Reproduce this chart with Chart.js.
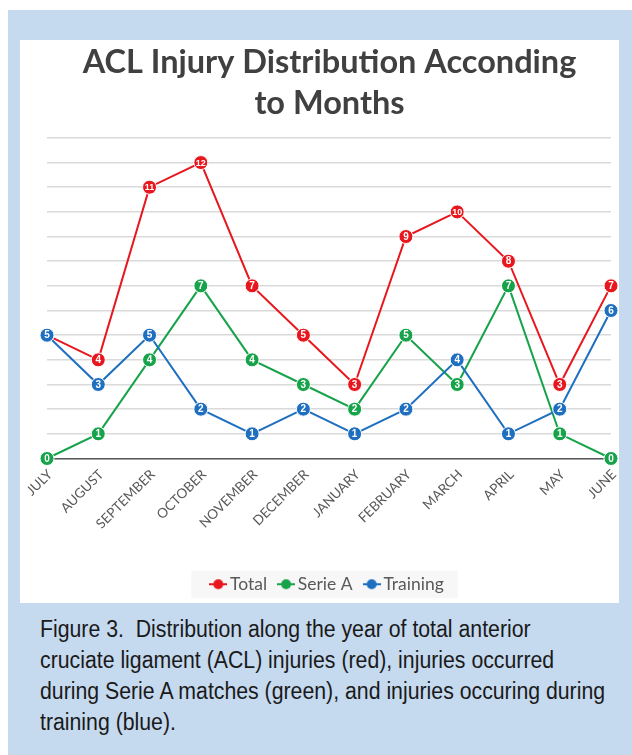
<!DOCTYPE html>
<html>
<head>
<meta charset="utf-8">
<script src="https://cdn.jsdelivr.net/npm/chart.js@4"></script>
<style>
  html, body { margin: 0; padding: 0; background: #ffffff; }
  body { width: 632px; height: 755px; position: relative; overflow: hidden; }
  #panel { position: absolute; left: 8px; top: 10px; width: 624px; height: 745px; background: #c5d9ef; }
  #box { position: absolute; left: 20px; top: 40px; width: 599px; height: 563px; background: #ffffff; }
  #caption {
    position: absolute; left: 40px; top: 614px;
    font-family: "Liberation Sans", Arial, sans-serif;
    font-size: 23.5px; line-height: 31px; color: #1a1a1a;
  }
  #caption div { white-space: nowrap; transform: scaleX(0.905); transform-origin: 0 0; }
</style>
</head>
<body>
<div id="panel"></div>
<div id="box"><canvas id="c" width="599" height="563"></canvas></div>
<div id="caption">
  <div>Figure 3.&nbsp; Distribution along the year of total anterior</div>
  <div>cruciate ligament (ACL) injuries (red), injuries occurred</div>
  <div>during Serie A matches (green), and injuries occuring during</div>
  <div>training (blue).</div>
</div>
<script>
const months = ["JULY", "AUGUST", "SEPTEMBER", "OCTOBER", "NOVEMBER", "DECEMBER",
                "JANUARY", "FEBRUARY", "MARCH", "APRIL", "MAY", "JUNE"];
const totalInjuries = [5, 4, 11, 12, 7, 5, 3, 9, 10, 8, 3, 7];
const serieAInjuries = [0, 1, 4, 7, 4, 3, 2, 5, 3, 7, 1, 0];
const trainingInjuries = [5, 3, 5, 2, 1, 2, 1, 2, 4, 1, 2, 6];
const titleLines = ["ACL Injury Distribution Acconding", "to Months"];

const RED = "#e8161d", GREEN = "#17a34a", BLUE = "#1f6fc0";

// small "line with dot" swatch for the legend
function swatch(color) {
  const cv = document.createElement("canvas");
  cv.width = 18; cv.height = 12;
  const g = cv.getContext("2d");
  g.strokeStyle = color; g.lineWidth = 2;
  g.beginPath(); g.moveTo(0, 6); g.lineTo(18, 6); g.stroke();
  g.fillStyle = color;
  g.beginPath(); g.arc(9, 6, 5, 0, Math.PI * 2); g.fill();
  return cv;
}

function series(label, data, color, order) {
  return {
    label, data, order,
    borderColor: color, backgroundColor: color,
    borderWidth: 2, tension: 0,
    pointRadius: 7, pointHoverRadius: 7,
    pointBackgroundColor: color, pointBorderColor: "#ffffff", pointBorderWidth: 1,
    clip: false
  };
}

// value labels printed inside each marker
const markerLabels = {
  id: "markerLabels",
  afterDatasetDraw(chart, args) {
    const ds = chart.data.datasets[args.index];
    const meta = args.meta;
    const ctx = chart.ctx;
    ctx.save();
    ctx.fillStyle = "#ffffff";
    ctx.textAlign = "center";
    ctx.textBaseline = "middle";
    meta.data.forEach((pt, i) => {
      const v = ds.data[i];
      ctx.font = (String(v).length > 1 ? "bold 9px" : "bold 10px") + " 'Liberation Sans', sans-serif";
      ctx.fillText(String(v), pt.x, pt.y + 0.5);
    });
    ctx.restore();
  }
};

// faint panel behind the legend entries
const legendPanel = {
  id: "legendPanel",
  beforeDraw(chart) {
    const lg = chart.legend;
    if (!lg || !lg.legendHitBoxes || !lg.legendHitBoxes.length) return;
    const boxes = lg.legendHitBoxes;
    const last = boxes[boxes.length - 1];
    const x0 = boxes[0].left - 24, x1 = last.left + last.width + 14;
    const ctx = chart.ctx;
    ctx.save();
    ctx.fillStyle = "#f7f7f7";
    ctx.fillRect(x0, boxes[0].top - 5, x1 - x0, boxes[0].height + 10);
    ctx.restore();
  }
};

new Chart(document.getElementById("c"), {
  type: "line",
  data: {
    labels: months,
    datasets: [
      series("Total", totalInjuries, RED, 3),
      series("Serie A", serieAInjuries, GREEN, 2),
      series("Training", trainingInjuries, BLUE, 1)
    ]
  },
  options: {
    responsive: false,
    animation: false,
    layout: { padding: { left: 27, right: 7, top: 0, bottom: 0 } },
    scales: {
      x: {
        offset: false,
        grid: { display: false, drawTicks: false },
        border: { display: true, color: "#595959", width: 1.5 },
        ticks: {
          autoSkip: false, maxRotation: 45, minRotation: 45, padding: 8, labelOffset: 3,
          color: "#595959", font: { family: "Lato, 'Open Sans', sans-serif", size: 13.5 }
        },
        afterFit(scale) {
          scale.height = 101;
          scale.paddingLeft = 0;
          scale.paddingRight = 0;
        }
      },
      y: {
        min: 0, max: 13,
        ticks: { display: false, stepSize: 1 },
        grid: { color: "#dadada", lineWidth: 1.5, drawTicks: false },
        border: { display: false },
        afterFit(scale) { scale.width = 0; }
      }
    },
    plugins: {
      title: {
        display: true, text: titleLines, color: "#404040",
        font: { family: "Lato, 'Open Sans', sans-serif", size: 32.5, weight: "bold", lineHeight: 1.26 },
        padding: { top: 2, bottom: 14 }
      },
      legend: {
        position: "bottom",
        labels: {
          color: "#595959",
          font: { family: "Lato, 'Open Sans', sans-serif", size: 17.5 },
          usePointStyle: true, pointStyleWidth: 6, padding: 16,
          generateLabels(chart) {
            return chart.data.datasets.map((d, i) => ({
              text: d.label, datasetIndex: i, fontColor: "#595959",
              pointStyle: swatch(d.borderColor), lineWidth: 0, hidden: false
            }));
          }
        }
      },
      tooltip: { enabled: false }
    }
  },
  plugins: [markerLabels, legendPanel]
});
</script>
</body>
</html>
